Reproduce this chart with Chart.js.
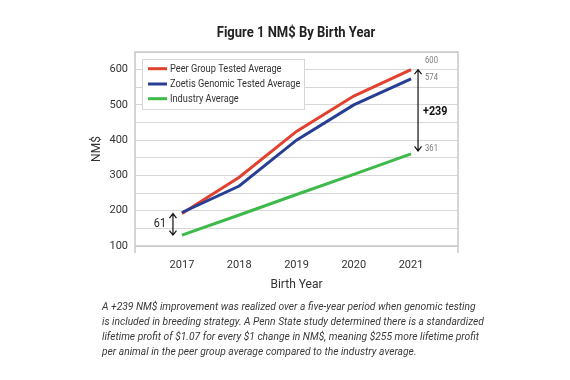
<!DOCTYPE html>
<html>
<head>
<meta charset="utf-8">
<script src="https://cdn.jsdelivr.net/npm/chart.js@4/dist/chart.umd.min.js"></script>
<style>
  html, body { margin: 0; padding: 0; background: #ffffff; }
  #wrap { position: relative; width: 570px; height: 380px; overflow: hidden; font-family: Roboto, sans-serif; }
  #title { position: absolute; left: 296px; top: 24px; white-space: nowrap; font-weight: 700; font-size: 14px; line-height: 16px; color: #222; transform-origin: center center; }
  #cv { position: absolute; left: 0; top: 0; }
  #caption { position: absolute; left: 102px; top: 299px; font-style: italic; font-size: 11.5px; line-height: 15px; color: #3a3a3a; }
  #caption div { white-space: nowrap; transform-origin: left center; }
</style>
</head>
<body>
<div id="wrap">
  <canvas id="cv" width="570" height="300"></canvas>
  <div id="title">Figure 1 NM$ By Birth Year</div>
  <div id="caption">
    <div>A +239 NM$ improvement was realized over a five-year period when genomic testing</div>
    <div>is included in breeding strategy. A Penn State study determined there is a standardized</div>
    <div>lifetime profit of $1.07 for every $1 change in NM$, meaning $255 more lifetime profit</div>
    <div>per animal in the peer group average compared to the industry average.</div>
  </div>
</div>
<script>
// ---- data ----
const years = [2017, 2018, 2019, 2020, 2021];
const peerGroup = [192, 295, 425, 525, 600];
const zoetisGenomic = [195, 270, 400, 500, 574];
const industry = [131, 188, 246, 303, 361];
const seriesNames = ['Peer Group Tested Average', 'Zoetis Genomic Tested Average', 'Industry Average'];
const seriesColors = ['#e2412f', '#263f94', '#3dba4a'];
const yTickValues = [100, 200, 300, 400, 500, 600];

function toPts(vals) { return years.map((y, i) => ({ x: y, y: vals[i] })); }

const legendPlugin = {
  id: 'insideLegend',
  afterDraw(chart) {
    const ctx = chart.ctx, a = chart.chartArea;
    const bx = a.left + 7, by = a.top + 7, bw = 162, bh = 50;
    ctx.save();
    ctx.fillStyle = '#ffffff';
    ctx.fillRect(bx, by, bw, bh);
    ctx.strokeStyle = '#d6d6d6';
    ctx.lineWidth = 1;
    ctx.strokeRect(bx + 0.5, by + 0.5, bw, bh);
    const rows = [a.top + 16.7, a.top + 32, a.top + 46.7];
    chart.data.datasets.forEach((ds, i) => {
      ctx.strokeStyle = ds.borderColor;
      ctx.lineWidth = 3;
      ctx.beginPath();
      ctx.moveTo(bx + 6, rows[i]);
      ctx.lineTo(bx + 25, rows[i]);
      ctx.stroke();
      ctx.save();
      ctx.translate(bx + 28, rows[i]);
      ctx.scale(0.84, 1);
      ctx.fillStyle = '#333';
      ctx.font = '11px Roboto';
      ctx.textBaseline = 'middle';
      ctx.textAlign = 'left';
      ctx.fillText(ds.label, 0, 0.5);
      ctx.restore();
    });
    ctx.restore();
  }
};

const borderPlugin = {
  id: 'areaBorder',
  beforeDatasetsDraw(chart) {
    const ctx = chart.ctx, a = chart.chartArea;
    ctx.save();
    ctx.strokeStyle = '#c8c8c8';
    ctx.lineWidth = 1.5;
    ctx.beginPath();
    ctx.moveTo(a.left, a.bottom + 7);
    ctx.lineTo(a.left, a.top);
    ctx.lineTo(a.right, a.top);
    ctx.lineTo(a.right, a.bottom + 7);
    ctx.moveTo(a.left, a.bottom);
    ctx.lineTo(a.right, a.bottom);
    ctx.stroke();
    ctx.restore();
  }
};

function arrow(ctx, x, y1, y2) {
  ctx.beginPath();
  ctx.moveTo(x, y1); ctx.lineTo(x, y2);
  ctx.moveTo(x - 3.5, y1 + 4.5); ctx.lineTo(x, y1); ctx.lineTo(x + 3.5, y1 + 4.5);
  ctx.moveTo(x - 3.5, y2 - 4.5); ctx.lineTo(x, y2); ctx.lineTo(x + 3.5, y2 - 4.5);
  ctx.stroke();
}

function scaledText(ctx, txt, x, y, font, color, sx, align) {
  ctx.save();
  ctx.translate(x, y);
  ctx.scale(sx, 1);
  ctx.font = font;
  ctx.fillStyle = color;
  ctx.textBaseline = 'middle';
  ctx.textAlign = align || 'left';
  ctx.fillText(txt, 0, 0);
  ctx.restore();
}

const annotPlugin = {
  id: 'annot',
  afterDatasetsDraw(chart) {
    const ctx = chart.ctx, xs = chart.scales.x, ys = chart.scales.y;
    const last = years.length - 1;
    ctx.save();
    ctx.strokeStyle = '#111';
    ctx.lineWidth = 1.2;
    // big arrow at last year
    const ax = xs.getPixelForValue(years[last]) + 7;
    const yTop = ys.getPixelForValue(peerGroup[last]);
    const yBot = ys.getPixelForValue(industry[last]) - 3;
    arrow(ctx, ax, yTop, yBot);
    scaledText(ctx, '+' + (peerGroup[last] - industry[last]), ax + 5, (yTop + yBot) / 2 + 1.5, 'bold 12px Roboto', '#111', 0.9);
    const lx = xs.getPixelForValue(years[last]) + 14;
    scaledText(ctx, String(peerGroup[last]), lx, ys.getPixelForValue(peerGroup[last]) - 8.5, '9px Roboto', '#7a7a7a', 0.85);
    scaledText(ctx, String(zoetisGenomic[last]), lx, ys.getPixelForValue(zoetisGenomic[last]) - 1.5, '9px Roboto', '#7a7a7a', 0.85);
    scaledText(ctx, String(industry[last]), lx, ys.getPixelForValue(industry[last]) - 5, '9px Roboto', '#7a7a7a', 0.85);
    // small arrow at first year
    const bx = xs.getPixelForValue(years[0]) - 9;
    const t1 = ys.getPixelForValue(peerGroup[0]);
    const t2 = ys.getPixelForValue(industry[0]);
    arrow(ctx, bx, t1, t2);
    scaledText(ctx, String(peerGroup[0] - industry[0]), bx - 7, (t1 + t2) / 2 - 0.5, '12px Roboto', '#222', 0.9, 'right');
    ctx.restore();
  }
};

function makeChart() {
  Chart.defaults.font.family = 'Roboto';
  Chart.defaults.color = '#333';
  const datasets = [peerGroup, zoetisGenomic, industry].map((vals, i) => ({
    label: seriesNames[i],
    data: toPts(vals),
    borderColor: seriesColors[i],
    backgroundColor: seriesColors[i],
    borderWidth: 3,
    pointRadius: 0,
    tension: 0,
    fill: false
  }));
  const ordered = [datasets[2], datasets[1], datasets[0]];
  ordered.forEach((d, i) => d.order = i);
  new Chart(document.getElementById('cv'), {
    type: 'line',
    data: { datasets: datasets },
    options: {
      responsive: false,
      animation: false,
      events: [],
      layout: { padding: { left: 86, top: 52, right: 112, bottom: 4 } },
      plugins: { legend: { display: false }, title: { display: false }, tooltip: { enabled: false } },
      scales: {
        x: {
          type: 'linear',
          min: years[0] - 0.82,
          max: years[years.length - 1] + 0.82,
          afterBuildTicks(scale) { scale.ticks = years.map(v => ({ value: v })); },
          afterFit(scale) { scale.height = 50; },
          grid: { display: false },
          border: { display: false },
          ticks: { padding: 5, font: { size: 11 }, color: '#333', callback: v => String(v), maxRotation: 0, autoSkip: false },
          title: { display: true, text: 'Birth Year', font: { size: 12 }, color: '#333', padding: { top: 4, bottom: 4 } }
        },
        y: {
          min: 100,
          max: 650,
          afterFit(scale) { scale.width = 49; },
          ticks: { stepSize: 50, padding: 7, font: { size: 11 }, color: '#333',
                   callback: v => (yTickValues.includes(v) ? String(v) : '') },
          grid: { color: '#d6d6d6', lineWidth: 1, drawTicks: false },
          border: { display: false },
          title: { display: true, text: 'NM$', font: { size: 12 }, color: '#333', padding: { top: 4, bottom: 4 } }
        }
      }
    },
    plugins: [borderPlugin, annotPlugin, legendPlugin]
  });
}

function fitText() {
  const t = document.getElementById('title');
  const tw = t.offsetWidth;
  t.style.transform = 'translateX(-50%) scaleX(' + (158 / tw) + ')';
  const lines = document.querySelectorAll('#caption div');
  const span = document.createElement('span');
  span.textContent = lines[0].textContent;
  span.style.whiteSpace = 'nowrap';
  lines[0].textContent = '';
  lines[0].appendChild(span);
  const k = 374 / span.offsetWidth;
  lines.forEach(l => l.style.transform = 'scaleX(' + k + ')');
}

const loads = ['11px Roboto', '12px Roboto', 'bold 12px Roboto', '9px Roboto', 'italic 11.5px Roboto', 'bold 14px Roboto']
  .map(f => document.fonts.load(f).catch(() => null));
Promise.all(loads).then(() => { fitText(); makeChart(); }, () => { fitText(); makeChart(); });
</script>
</body>
</html>
